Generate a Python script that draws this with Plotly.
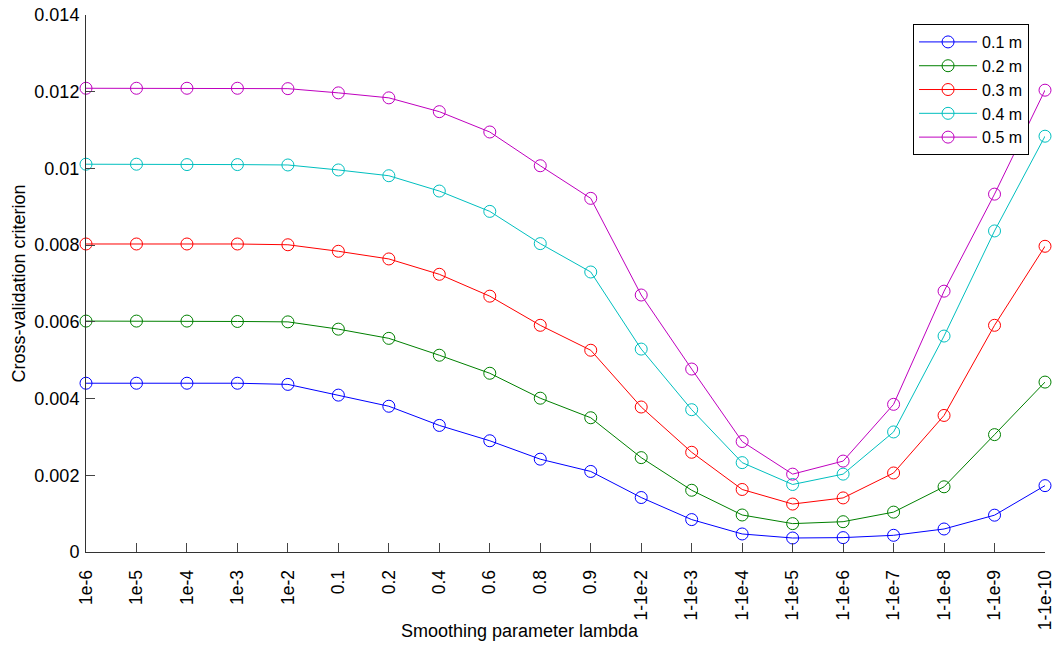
import plotly.graph_objects as go

categories = ["1e-6", "1e-5", "1e-4", "1e-3", "1e-2", "0.1", "0.2", "0.4", "0.6", "0.8", "0.9",
              "1-1e-2", "1-1e-3", "1-1e-4", "1-1e-5", "1-1e-6", "1-1e-7", "1-1e-8", "1-1e-9", "1-1e-10"]

cv_01 = [0.00440, 0.00440, 0.00440, 0.00440, 0.00437, 0.00409, 0.00380, 0.00330, 0.00290, 0.00242,
         0.00210, 0.00142, 0.000845, 0.00047, 0.000365, 0.000375, 0.000435, 0.00060, 0.00096, 0.00173]
cv_02 = [0.00602, 0.00602, 0.00602, 0.00601, 0.00600, 0.00581, 0.00557, 0.00513, 0.00466, 0.00401,
         0.00350, 0.00246, 0.00161, 0.000965, 0.00074, 0.00079, 0.00104, 0.00170, 0.00306, 0.00443]
cv_03 = [0.00803, 0.00803, 0.00803, 0.00803, 0.00801, 0.00784, 0.00764, 0.00724, 0.00667, 0.00591,
         0.00526, 0.00378, 0.00260, 0.00163, 0.00125, 0.00141, 0.00206, 0.00356, 0.00591, 0.00797]
cv_04 = [0.01011, 0.01011, 0.01010, 0.01010, 0.01009, 0.00996, 0.00981, 0.00941, 0.00888, 0.00804,
         0.00730, 0.00529, 0.00371, 0.00233, 0.00176, 0.00203, 0.00313, 0.00563, 0.00837, 0.01084]
cv_05 = [0.01209, 0.01209, 0.01209, 0.01209, 0.01208, 0.01197, 0.01184, 0.01148, 0.01095, 0.01007,
         0.00922, 0.00670, 0.00477, 0.00288, 0.00203, 0.00237, 0.00385, 0.00680, 0.00933, 0.01204]

series_names = ["0.1 m", "0.2 m", "0.3 m", "0.4 m", "0.5 m"]
series_values = [cv_01, cv_02, cv_03, cv_04, cv_05]
colors = ["#0000FF", "#008000", "#FF0000", "#00BFBF", "#BF00BF"]

y_tickvals = [0, 0.002, 0.004, 0.006, 0.008, 0.01, 0.012, 0.014]
y_ticktext = ["0", "0.002", "0.004", "0.006", "0.008", "0.01", "0.012", "0.014"]

FONT = "Liberation Sans, Arial, Helvetica, sans-serif"

fig = go.Figure()
for name, vals, col in zip(series_names, series_values, colors):
    fig.add_trace(go.Scatter(
        x=categories, y=vals, name=name, mode="lines+markers",
        line=dict(color=col, width=1),
        marker=dict(symbol="circle-open", size=12, color=col, line=dict(width=1, color=col)),
        cliponaxis=False,
    ))

fig.update_layout(
    width=1061, height=649,
    margin=dict(l=86, r=16, t=15, b=97, autoexpand=False),
    paper_bgcolor="white", plot_bgcolor="white",
    font=dict(family=FONT, size=18, color="black"),
    showlegend=True,
    legend=dict(
        x=0.8624, y=0.9832, xanchor="left", yanchor="top",
        bordercolor="black", borderwidth=1, bgcolor="white",
        font=dict(family=FONT, size=16, color="black"),
        itemwidth=58,
        tracegroupgap=0,
    ),
    xaxis=dict(
        type="category", range=[0, len(categories) - 1],
        automargin=False,
        showgrid=False, zeroline=False,
        showline=True, linecolor="#333333", linewidth=1,
        ticks="inside", ticklen=9, tickcolor="#444444", tickwidth=1,
        tickangle=-90, ticklabelstandoff=10,
        tickfont=dict(family=FONT, size=17.5, color="black"),
    ),
    yaxis=dict(
        range=[0, 0.014],
        automargin=False,
        tickvals=y_tickvals, ticktext=y_ticktext,
        showgrid=False, zeroline=False,
        showline=True, linecolor="#333333", linewidth=1,
        ticks="inside", ticklen=9, tickcolor="#444444", tickwidth=1,
        ticklabelstandoff=2,
        tickfont=dict(family=FONT, size=18, color="black"),
    ),
    annotations=[
        dict(text="Smoothing parameter lambda", xref="paper", yref="paper",
             x=0.453, y=-0.148, xanchor="center", yanchor="middle", showarrow=False,
             font=dict(family=FONT, size=18, color="black")),
        dict(text="Cross-validation criterion", xref="paper", yref="paper",
             x=-0.0709, y=0.5, xanchor="center", yanchor="middle", showarrow=False,
             textangle=-90,
             font=dict(family=FONT, size=18, color="black")),
    ],
)

fig.write_html("out.html")
